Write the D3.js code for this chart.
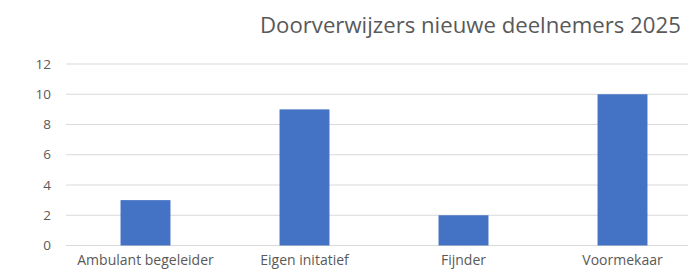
<!DOCTYPE html>
<html>
<head>
<meta charset="utf-8">
<script src="https://cdn.jsdelivr.net/npm/d3@7"></script>
<style>
  body { margin: 0; background: #fff; }
  text { font-family: "Open Sans", sans-serif; fill: #595959; }
</style>
</head>
<body>
<svg id="chart"></svg>
<script>
// data
var categories = ["Ambulant begeleider", "Eigen initatief", "Fijnder", "Voormekaar"];
var values = [3, 9, 2, 10];
var yTicks = [0, 2, 4, 6, 8, 10, 12];
var title = "Doorverwijzers nieuwe deelnemers 2025";

var setup = {
  width: 688,
  height: 276,
  left: 66,
  right: 702,   // plot area runs past the window edge
  top: 64,
  bottom: 245.5
};

var svg = d3.select("#chart")
  .attr("width", setup.width)
  .attr("height", setup.height);

var x = d3.scaleBand()
  .domain(categories)
  .range([setup.left, setup.right])
  .paddingInner(0.686)
  .paddingOuter(0.343);

var y = d3.scaleLinear()
  .domain([0, 12])
  .range([setup.bottom, setup.top]);

// gridlines
svg.append("g")
  .selectAll("line")
  .data(yTicks)
  .join("line")
  .attr("x1", setup.left)
  .attr("x2", setup.right)
  .attr("y1", d => y(d))
  .attr("y2", d => y(d))
  .attr("stroke", "#d9d9d9")
  .attr("stroke-width", 1);

// y labels
svg.append("g")
  .selectAll("text")
  .data(yTicks)
  .join("text")
  .attr("x", 51)
  .attr("y", d => y(d))
  .attr("dy", "0.35em")
  .attr("text-anchor", "end")
  .style("font-size", "13.5px")
  .text(d => d);

// bars
svg.append("g")
  .selectAll("rect")
  .data(values)
  .join("rect")
  .attr("x", (d, i) => x(categories[i]))
  .attr("width", x.bandwidth())
  .attr("y", d => y(d))
  .attr("height", d => y(0) - y(d))
  .attr("fill", "#4472c4");

// category labels
svg.append("g")
  .selectAll("text")
  .data(categories)
  .join("text")
  .attr("x", d => x(d) + x.bandwidth() / 2)
  .attr("y", 265)
  .attr("text-anchor", "middle")
  .style("font-size", "14px")
  .text(d => d);

// title
var t = svg.append("text")
  .attr("x", 260)
  .attr("y", 33)
  .style("font-size", "22px")
  .text(title);
// squeeze to the width seen in the picture
var w = t.node().getComputedTextLength();
t.style("font-size", (22 * 421 / w) + "px");
</script>
</body>
</html>
